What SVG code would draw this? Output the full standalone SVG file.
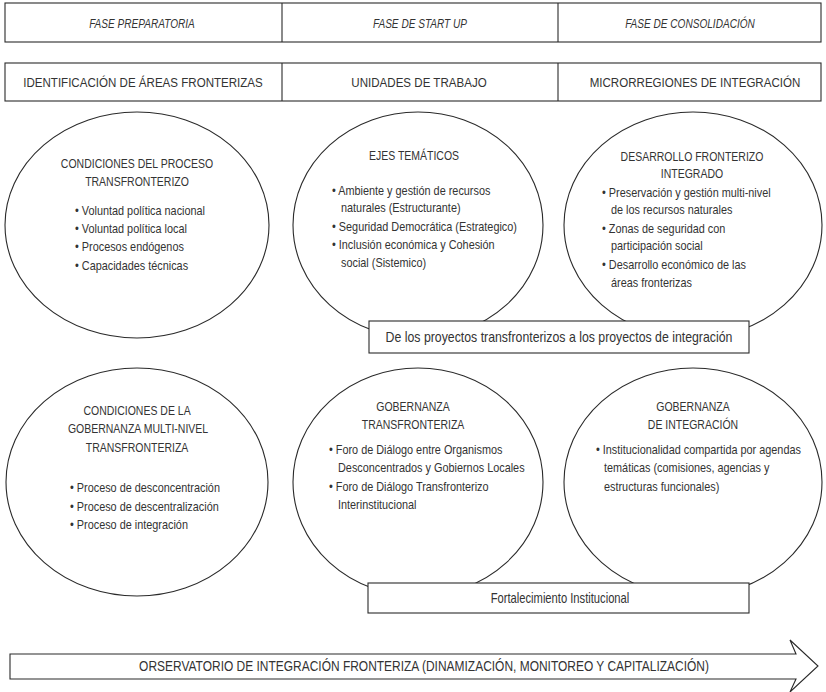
<svg xmlns="http://www.w3.org/2000/svg" width="826" height="692" viewBox="0 0 826 692">
<style>
text{font-family:"Liberation Sans",Arial,sans-serif;fill:#333;transform-box:fill-box}
.ph{font-size:12px;font-style:italic;text-anchor:middle;transform-origin:50% 50%;transform:scaleX(.84)}
.hd{font-size:13px;text-anchor:middle;transform-origin:50% 50%;transform:scaleX(.89)}
.tt{font-size:12.5px;text-anchor:middle;transform-origin:50% 50%;transform:scaleX(.84)}
.bt{font-size:14px;text-anchor:middle;transform-origin:50% 50%;transform:scaleX(.88)}
.ar{font-size:14px;text-anchor:middle;transform-origin:50% 50%;transform:scaleX(.855)}
.fo{font-size:14px;text-anchor:middle;transform-origin:50% 50%;transform:scaleX(.8)}
.bl{font-size:12.5px;transform-origin:0 0;transform:scaleX(.87)}
.bx{fill:#fff;stroke:#2a2a2a;stroke-width:1.1}
.el{fill:none;stroke:#2a2a2a;stroke-width:1.1}
.ln{stroke:#2a2a2a;stroke-width:1.1}
</style>
<rect width="826" height="692" fill="#fff"/>
<g id="phases">
<rect class="bx" x="5" y="3" width="816" height="39"/>
<line class="ln" x1="282" y1="3" x2="282" y2="42"/>
<line class="ln" x1="558" y1="3" x2="558" y2="42"/>
<text class="ph" x="142" y="28">FASE PREPARATORIA</text>
<text class="ph" x="420" y="28">FASE DE START UP</text>
<text class="ph" x="690" y="28">FASE DE CONSOLIDACIÓN</text>
</g>
<g id="units">
<rect class="bx" x="5" y="63" width="816" height="38"/>
<line class="ln" x1="282" y1="63" x2="282" y2="101"/>
<line class="ln" x1="558" y1="63" x2="558" y2="101"/>
<text class="hd" x="143" y="87">IDENTIFICACIÓN DE ÁREAS FRONTERIZAS</text>
<text class="hd" x="419" y="87">UNIDADES DE TRABAJO</text>
<text class="hd" x="695" y="87">MICRORREGIONES DE INTEGRACIÓN</text>
</g>
<g id="condiciones-proceso">
<ellipse class="el" cx="137" cy="225" rx="132" ry="113"/>
<text class="tt" x="137" y="168">CONDICIONES DEL PROCESO</text>
<text class="tt" x="137" y="186">TRANSFRONTERIZO</text>
<text class="bl" x="75" y="215">• Voluntad política nacional</text>
<text class="bl" x="75" y="233">• Voluntad política local</text>
<text class="bl" x="75" y="251">• Procesos endógenos</text>
<text class="bl" x="75" y="270">• Capacidades técnicas</text>
</g>
<g id="ejes-tematicos">
<ellipse class="el" cx="418" cy="225" rx="125" ry="113"/>
<text class="tt" x="414" y="160">EJES TEMÁTICOS</text>
<text class="bl" x="332" y="195">• Ambiente y gestión de recursos</text>
<text class="bl" x="341" y="212">naturales (Estructurante)</text>
<text class="bl" x="332" y="231">• Seguridad Democrática (Estrategico)</text>
<text class="bl" x="332" y="249">• Inclusión económica y Cohesión</text>
<text class="bl" x="341" y="267">social (Sistemico)</text>
</g>
<g id="desarrollo-fronterizo">
<ellipse class="el" cx="693" cy="225" rx="129" ry="113"/>
<text class="tt" x="692" y="161">DESARROLLO FRONTERIZO</text>
<text class="tt" x="692" y="178">INTEGRADO</text>
<text class="bl" x="602" y="197">• Preservación y gestión multi-nivel</text>
<text class="bl" x="611" y="214">de los recursos naturales</text>
<text class="bl" x="602" y="233">• Zonas de seguridad con</text>
<text class="bl" x="611" y="250">participación social</text>
<text class="bl" x="602" y="269">• Desarrollo económico de las</text>
<text class="bl" x="611" y="287">áreas fronterizas</text>
</g>
<g id="proyectos">
<rect class="bx" x="369" y="321" width="380" height="32"/>
<text class="bt" x="559" y="342">De los proyectos transfronterizos a los proyectos de integración</text>
</g>
<g id="condiciones-gobernanza">
<ellipse class="el" cx="137" cy="482" rx="131" ry="114"/>
<text class="tt" x="137" y="415">CONDICIONES DE LA</text>
<text class="tt" x="138" y="433">GOBERNANZA MULTI-NIVEL</text>
<text class="tt" x="137" y="452">TRANSFRONTERIZA</text>
<text class="bl" x="70" y="492">• Proceso de desconcentración</text>
<text class="bl" x="70" y="511">• Proceso de descentralización</text>
<text class="bl" x="70" y="529">• Proceso de integración</text>
</g>
<g id="gobernanza-transfronteriza">
<ellipse class="el" cx="418" cy="482" rx="125" ry="114"/>
<text class="tt" x="413" y="411">GOBERNANZA</text>
<text class="tt" x="413" y="429">TRANSFRONTERIZA</text>
<text class="bl" x="329" y="454">• Foro de Diálogo entre Organismos</text>
<text class="bl" x="338" y="472">Desconcentrados y Gobiernos Locales</text>
<text class="bl" x="329" y="491">• Foro de Diálogo Transfronterizo</text>
<text class="bl" x="338" y="509">Interinstitucional</text>
</g>
<g id="gobernanza-integracion">
<ellipse class="el" cx="693" cy="482" rx="129" ry="114"/>
<text class="tt" x="693" y="411">GOBERNANZA</text>
<text class="tt" x="693" y="429">DE INTEGRACIÓN</text>
<text class="bl" x="596" y="454">• Institucionalidad compartida por agendas</text>
<text class="bl" x="604" y="472">temáticas (comisiones, agencias y</text>
<text class="bl" x="604" y="491">estructuras funcionales)</text>
</g>
<g id="fortalecimiento">
<rect class="bx" x="368" y="583" width="381" height="30"/>
<text class="fo" x="560" y="603">Fortalecimiento Institucional</text>
</g>
<g id="observatorio">
<polygon class="bx" points="10,654 796,654 790,640 818,666 790,692 796,679 10,679"/>
<text class="ar" x="424" y="671">ORSERVATORIO DE INTEGRACIÓN FRONTERIZA (DINAMIZACIÓN, MONITOREO Y CAPITALIZACIÓN)</text>
</g>
<g id="connectors"></g>
</svg>
